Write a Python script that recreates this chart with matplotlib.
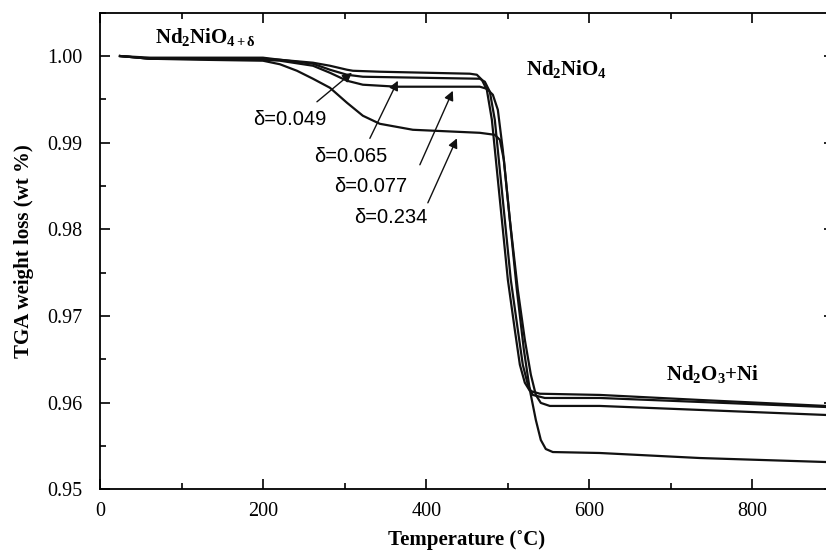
import numpy as np
import matplotlib.pyplot as plt
from matplotlib.ticker import MultipleLocator

plt.rcParams['font.family'] = 'Liberation Serif'
plt.rcParams['mathtext.fontset'] = 'custom'
plt.rcParams['mathtext.rm'] = 'Liberation Serif'
plt.rcParams['mathtext.bf'] = 'Liberation Serif:bold'
plt.rcParams['mathtext.it'] = 'Liberation Serif:italic'

# TGA curves (temperature in C, normalised weight)
temp_049 = [24.5, 61.3, 122.6, 199.8, 220.6, 261.1, 281.9, 302.8, 310.1, 343.1, 453.5, 462.1,
            468.2, 474.3, 480.5, 490.3, 500.1, 508.6, 514.8, 520.9, 527.0, 539.3, 612.8, 735.4, 889.8]
wt_049 = [1.0000, 0.99981, 0.99981, 0.99981, 0.99957, 0.99923, 0.99888, 0.99842, 0.99830, 0.99819,
          0.99796, 0.99784, 0.99726, 0.99611, 0.99264, 0.98341, 0.97418, 0.96841, 0.96438, 0.96230,
          0.96137, 0.96103, 0.96089, 0.96031, 0.95962]

temp_065 = [24.5, 61.3, 122.6, 199.8, 220.6, 261.1, 281.9, 302.8, 322.3, 465.7, 471.9, 478.0,
            484.1, 493.9, 503.7, 512.3, 518.4, 524.6, 530.7, 545.4, 612.8, 735.4, 889.8]
wt_065 = [1.0000, 0.99969, 0.99969, 0.99969, 0.99957, 0.99911, 0.99842, 0.99784, 0.99761, 0.99738,
          0.99703, 0.99588, 0.99264, 0.98341, 0.97418, 0.96841, 0.96438, 0.96207, 0.96089, 0.96054,
          0.96054, 0.96008, 0.95950]

temp_077 = [24.5, 61.3, 122.6, 199.8, 220.6, 261.1, 281.9, 302.8, 322.3, 364.0, 465.7, 474.3,
            481.7, 487.8, 493.9, 502.5, 512.3, 520.9, 528.3, 534.4, 540.5, 551.5, 612.8, 735.4, 889.8]
wt_077 = [1.0000, 0.99969, 0.99969, 0.99957, 0.99946, 0.99888, 0.99807, 0.99715, 0.99669, 0.99646,
          0.99646, 0.99622, 0.99553, 0.99380, 0.98918, 0.98112, 0.97303, 0.96726, 0.96322, 0.96089,
          0.95997, 0.95962, 0.95962, 0.95916, 0.95858]

temp_234 = [24.5, 61.3, 122.6, 199.8, 220.6, 241.5, 261.1, 281.9, 302.8, 322.3, 343.1, 383.6,
            465.7, 484.1, 490.3, 495.2, 502.5, 511.1, 519.7, 527.0, 534.4, 540.5, 546.6, 555.2,
            612.8, 735.4, 889.8]
wt_234 = [1.0000, 0.99969, 0.99957, 0.99946, 0.99905, 0.99830, 0.99738, 0.99634, 0.99461, 0.99311,
          0.99218, 0.99149, 0.99114, 0.99091, 0.99033, 0.98802, 0.98112, 0.97303, 0.96611, 0.96149,
          0.95800, 0.95569, 0.95465, 0.95430, 0.95419, 0.95361, 0.95315]

# delta labels: text centre, arrow tail and arrow tip
delta_labels = ['δ=0.049', 'δ=0.065', 'δ=0.077', 'δ=0.234']
label_xy = [(232.3, 0.99268), (307.0, 0.98837), (331.5, 0.98491), (356.0, 0.98133)]
tail_xy = [(266.0, 0.99472), (330.9, 0.99050), (392.2, 0.98745), (402.0, 0.98306)]
tip_xy = [(308.9, 0.99807), (365.2, 0.99715), (432.6, 0.99599), (437.6, 0.99050)]

fig = plt.figure(figsize=(8.26, 5.56), dpi=100)
ax = fig.add_axes([0.12107, 0.11996, 0.88862, 0.85719])

for t, w in [(temp_049, wt_049), (temp_065, wt_065), (temp_077, wt_077), (temp_234, wt_234)]:
    ax.plot(t, w, color='#111111', lw=1.6, solid_joinstyle='round')

for lab, (lx, ly), tail, tip in zip(delta_labels, label_xy, tail_xy, tip_xy):
    ax.text(lx, ly, lab, ha='center', va='center', fontsize=14.5, family='Liberation Sans')
    ax.annotate('', xy=tip, xytext=tail,
                arrowprops=dict(arrowstyle='-|>', color='#111111', lw=1.0,
                                mutation_scale=14, shrinkA=0, shrinkB=0))

ax.text(67.4, 1.00154, r'$\mathbf{Nd_2NiO_{4+\delta}}$', ha='left', va='baseline', fontsize=15)
ax.text(522.1, 0.99784, r'$\mathbf{Nd_2NiO_4}$', ha='left', va='baseline', fontsize=15)
ax.text(694.6, 0.96262, r'$\mathbf{Nd_2O_3{+}Ni}$', ha='left', va='baseline', fontsize=15)

ax.set_xlim(0, 900)
ax.set_ylim(0.95, 1.005)
ax.set_xticks([0, 200, 400, 600, 800])
ax.set_yticks([0.95, 0.96, 0.97, 0.98, 0.99, 1.00])
ax.set_yticklabels(['0.95', '0.96', '0.97', '0.98', '0.99', '1.00'])
ax.xaxis.set_minor_locator(MultipleLocator(100))
ax.yaxis.set_minor_locator(MultipleLocator(0.005))
ax.tick_params(which='both', direction='in', top=True, right=True, width=1.2, labelsize=14.5)
ax.tick_params(which='major', length=7.5)
ax.tick_params(which='minor', length=4)
ax.tick_params(axis='x', pad=9.5)
ax.tick_params(axis='y', pad=12.5)
for s in ax.spines.values():
    s.set_linewidth(1.3)

ax.set_xlabel('Temperature (˚C)', fontsize=15, fontweight='bold', labelpad=6)
ax.set_ylabel('TGA weight loss (wt %)', fontsize=15, fontweight='bold', labelpad=10)

fig.savefig('out.png', dpi=100)
